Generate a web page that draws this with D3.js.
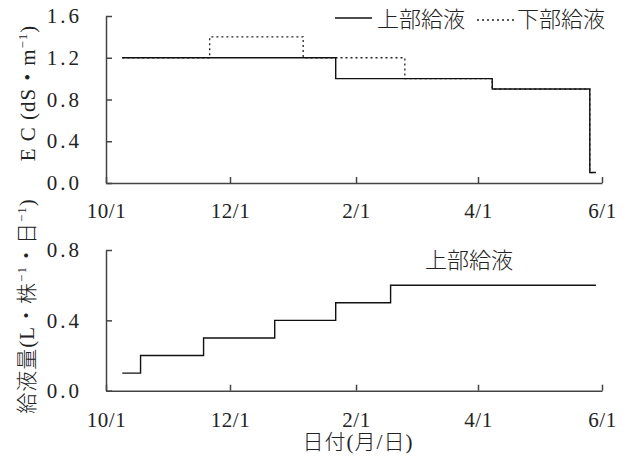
<!DOCTYPE html>
<html><head><meta charset="utf-8">
<script src="https://cdn.jsdelivr.net/npm/d3@7/dist/d3.min.js"></script>
<style>
body{margin:0;background:#fff;}
text{fill:#222;font-family:"Liberation Serif","Noto Sans CJK JP",serif;}
.jp{font-family:"Noto Sans CJK JP",sans-serif;font-weight:300;}
</style></head>
<body><svg id="c" width="628" height="465"></svg>
<script>
// ---- data ----
const xTickLabels = ["10/1","12/1","2/1","4/1","6/1"];
const xTickDates = ["2019-10-01","2019-12-01","2020-02-01","2020-04-01","2020-06-01"];
const ecTicks = [0, 0.4, 0.8, 1.2, 1.6];
const volTicks = [0, 0.4, 0.8];

const topFeedDates = ["2019-10-09","2020-01-22","2020-04-08","2020-05-26","2020-05-29"];
const topFeedEC    = [1.2, 1.0, 0.9, 0.1, 0.1];
const bottomFeedDates = ["2019-10-09","2019-11-21","2020-01-06","2020-02-25","2020-04-08","2020-05-26","2020-05-29"];
const bottomFeedEC    = [1.2, 1.4, 1.2, 1.0, 0.9, 0.1, 0.1];

const volDates = ["2019-10-09","2019-10-18","2019-11-18","2019-12-23","2020-01-22","2020-02-18","2020-05-29"];
const volValues = [0.1, 0.2, 0.3, 0.4, 0.5, 0.6, 0.6];

const seriesNames = ["上部給液","下部給液"];

// ---- drawing ----
const svg = d3.select("#c");
const P = s => new Date(s + "T00:00:00Z");
const x = d3.scaleUtc().domain([P(xTickDates[0]), P(xTickDates[xTickDates.length-1])]).range([106, 602]);
const yTop = d3.scaleLinear().domain([0, 1.6]).range([183, 16]);
const yBot = d3.scaleLinear().domain([0, 0.8]).range([390.7, 250]);

function xAxis(g, padding){
  g.call(d3.axisBottom(x).tickValues(xTickDates.map(P))
     .tickFormat((d,i)=>xTickLabels[i]).tickSize(-6).tickSizeOuter(0).tickPadding(padding));
  g.selectAll("text").attr("font-size",21).attr("font-family","Liberation Serif").attr("letter-spacing","0.5px");
  g.selectAll("path,line").attr("stroke","#444").attr("stroke-width",1.5);
}
function yAxis(g, scale, ticks){
  g.call(d3.axisLeft(scale).tickValues(ticks).tickFormat(d3.format(".1f"))
     .tickSize(-6).tickSizeOuter(0).tickPadding(24));
  g.selectAll("text").attr("font-size",21).attr("letter-spacing","3px").attr("font-family","Liberation Serif");
  g.selectAll("path,line").attr("stroke","#444").attr("stroke-width",1.5);
}

// top panel
svg.append("g").attr("transform","translate(0,183)").call(g=>xAxis(g,20));
svg.append("g").attr("transform","translate(106,0)").call(g=>yAxis(g,yTop,ecTicks));

const lineTop = d3.line().x(d=>x(P(d[0]))).y(d=>yTop(d[1])).curve(d3.curveStepAfter);
svg.append("path").datum(bottomFeedDates.map((d,i)=>[d,bottomFeedEC[i]]))
  .attr("d",lineTop).attr("fill","none").attr("stroke","#222").attr("stroke-width",1.3)
  .attr("stroke-dasharray","2,3");
svg.append("path").datum(topFeedDates.map((d,i)=>[d,topFeedEC[i]]))
  .attr("d",lineTop).attr("fill","none").attr("stroke","#111").attr("stroke-width",1.4);

// legend
svg.append("line").attr("x1",335).attr("x2",372).attr("y1",18).attr("y2",18).attr("stroke","#111").attr("stroke-width",1.4);
svg.append("text").attr("class","jp").attr("x",377).attr("y",27).attr("font-size",22).text(seriesNames[0]);
svg.append("line").attr("x1",477).attr("x2",514).attr("y1",20).attr("y2",20).attr("stroke","#222").attr("stroke-width",1.3).attr("stroke-dasharray","2,3");
svg.append("text").attr("class","jp").attr("x",517).attr("y",27).attr("font-size",22).text(seriesNames[1]);

// top y title
const t1 = svg.append("text").attr("transform","translate(28,93) rotate(-90)")
  .attr("text-anchor","middle").attr("dy","0.35em").attr("font-size",21).attr("letter-spacing","1px");
t1.append("tspan").text("E C (dS・m");
t1.append("tspan").attr("font-size",13).attr("dy",-8).text("−1");
t1.append("tspan").attr("dy",8).text(")");

// bottom panel
svg.append("g").attr("transform","translate(0,390.7)").call(g=>xAxis(g,21));
svg.append("g").attr("transform","translate(106,0)").call(g=>yAxis(g,yBot,volTicks));

const lineBot = d3.line().x(d=>x(P(d[0]))).y(d=>yBot(d[1])).curve(d3.curveStepAfter);
svg.append("path").datum(volDates.map((d,i)=>[d,volValues[i]]))
  .attr("d",lineBot).attr("fill","none").attr("stroke","#111").attr("stroke-width",1.4);

svg.append("text").attr("class","jp").attr("x",469).attr("y",268).attr("text-anchor","middle")
  .attr("font-size",22).text(seriesNames[0]);

const t2 = svg.append("text").attr("transform","translate(27,306) rotate(-90)")
  .attr("text-anchor","middle").attr("dy","0.35em").attr("font-size",21).attr("letter-spacing","1px")
  .style("font-weight",300);
t2.append("tspan").text("給液量(L・株");
t2.append("tspan").attr("font-size",13).attr("dy",-8).text("−1");
t2.append("tspan").attr("dy",8).text("・日");
t2.append("tspan").attr("font-size",13).attr("dy",-8).text("−1");
t2.append("tspan").attr("dy",8).text(")");

svg.append("text").attr("x",358).attr("y",449).attr("text-anchor","middle").attr("font-size",21)
  .attr("letter-spacing","1px").style("font-weight",300).text("日付(月/日)");
</script></body></html>
